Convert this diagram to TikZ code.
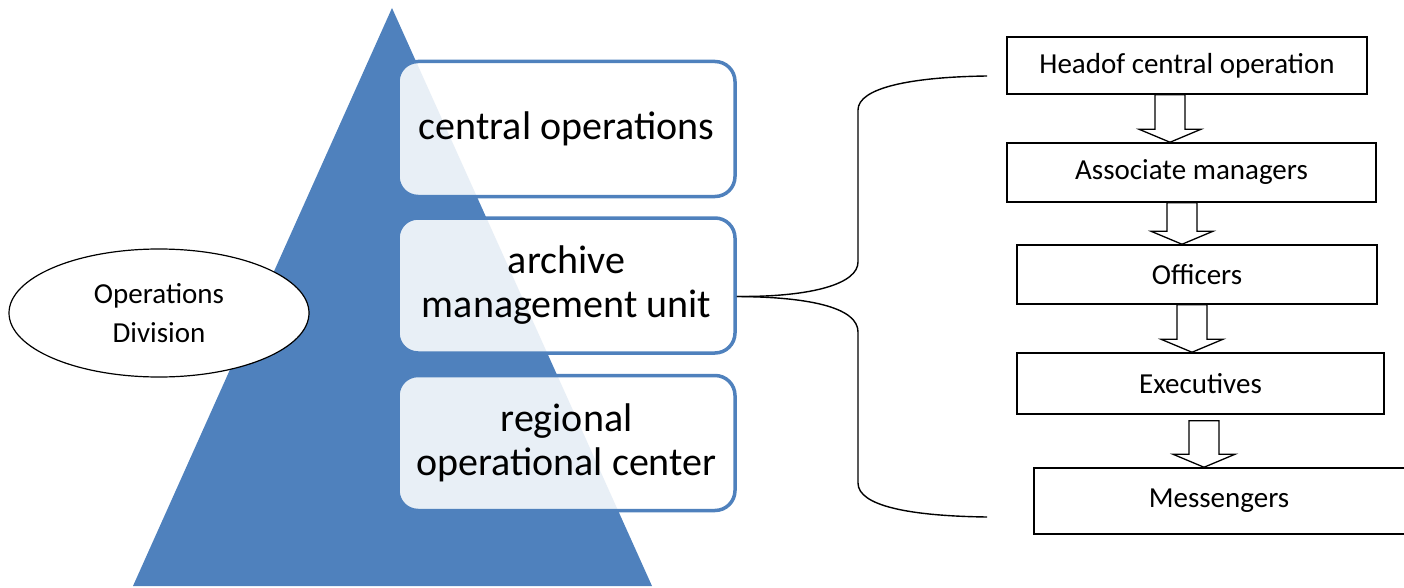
\documentclass[tikz,border=0pt]{standalone}
\usepackage{fontspec}
\setmainfont{Carlito}
\usetikzlibrary{calc,shapes.geometric}
\definecolor{pyrblue}{HTML}{4F81BD}

\newcommand{\flowarrow}[4]{% #1 = x of shaft, #2 = upper box, #3 = lower box, #4 = gap
    \path (#1,0 |- #2.south) ++ (0,#4) coordinate (top) (#1,0 |- #3.north) coordinate (tip);
    \draw[flow] ($(top)+(-15,0)$) -- ($(tip)+(-15,-13)$) -- ($(tip)+(-31,-13)$) -- (tip) -- ($(tip)+(31,-13)$) -- ($(tip)+(15,-13)$) -- ($(top)+(15,0)$) -- cycle;
}

\tikzset{
    level/.style={draw=pyrblue, line width=3.5pt, rounded corners=20pt, fill=white, fill opacity=0.875, draw opacity=1, text opacity=1, minimum width=337pt, minimum height=135pt, align=center, font=\fontsize{40}{44}\selectfont},
    rank/.style={draw, line width=1.5pt, fill=white, inner sep=0pt, font=\fontsize{29}{35}\selectfont},
    flow/.style={draw, fill=white, line width=1.3pt, line join=miter},
    brace/.style={line width=1.4pt},
}

\begin{document}
\begin{tikzpicture}[x=1pt, y=-1pt]

        \useasboundingbox (0,0) rectangle (1404,588);

        % pyramid
        \fill[pyrblue] (392,8) -- (652,586) -- (133,586) -- cycle;

        \node[ellipse, draw, line width=1.2pt, fill=white, minimum width=300pt, minimum height=128pt, inner sep=0pt, align=center, font=\fontsize{29}{39}\selectfont] (division) at (159,313) {Operations\\ Division};

        \node[level] (central) at (566.5,129) {central operations};
        \node[level] (archive) at (566.5,285.5) {archive\\ management unit};
        \node[level] (regional) at (566.5,443) {regional\\ operational center};

        % staff chain
        \node[rank, minimum width=360pt, minimum height=57pt] (head) at (1187,65.5) {Headof central operation};
        \node[rank, minimum width=369pt, minimum height=59pt] (assoc) at (1191.5,172.5) {Associate managers};
        \node[rank, minimum width=360pt, minimum height=59pt] (officers) at (1197,274.5) {Officers};
        \node[rank, minimum width=367pt, minimum height=61pt] (execs) at (1200.5,383.5) {Executives};
        \node[rank, minimum width=380pt, minimum height=66pt] (messengers) at (1224,501) {Messengers\hspace*{10pt}};

        \flowarrow{1170}{head}{assoc}{0}
        \flowarrow{1182}{assoc}{officers}{0}
        \flowarrow{1192}{officers}{execs}{0}
        \flowarrow{1204}{execs}{messengers}{6}

        % brace
        \coordinate (hub) at ($(archive.east)+(0,11)$);
        \coordinate (topend) at (987,76);
        \coordinate (botend) at (987,517);
        \draw[brace] (hub) .. controls (815,297) and (858,283) .. (858,262) -- (858,110) .. controls (858,88) and (910,77) .. (topend);
        \draw[brace] (hub) .. controls (815,297) and (858,309) .. (858,332) -- (858,483) .. controls (858,506) and (910,516) .. (botend);

    \end{tikzpicture}
\end{document}
